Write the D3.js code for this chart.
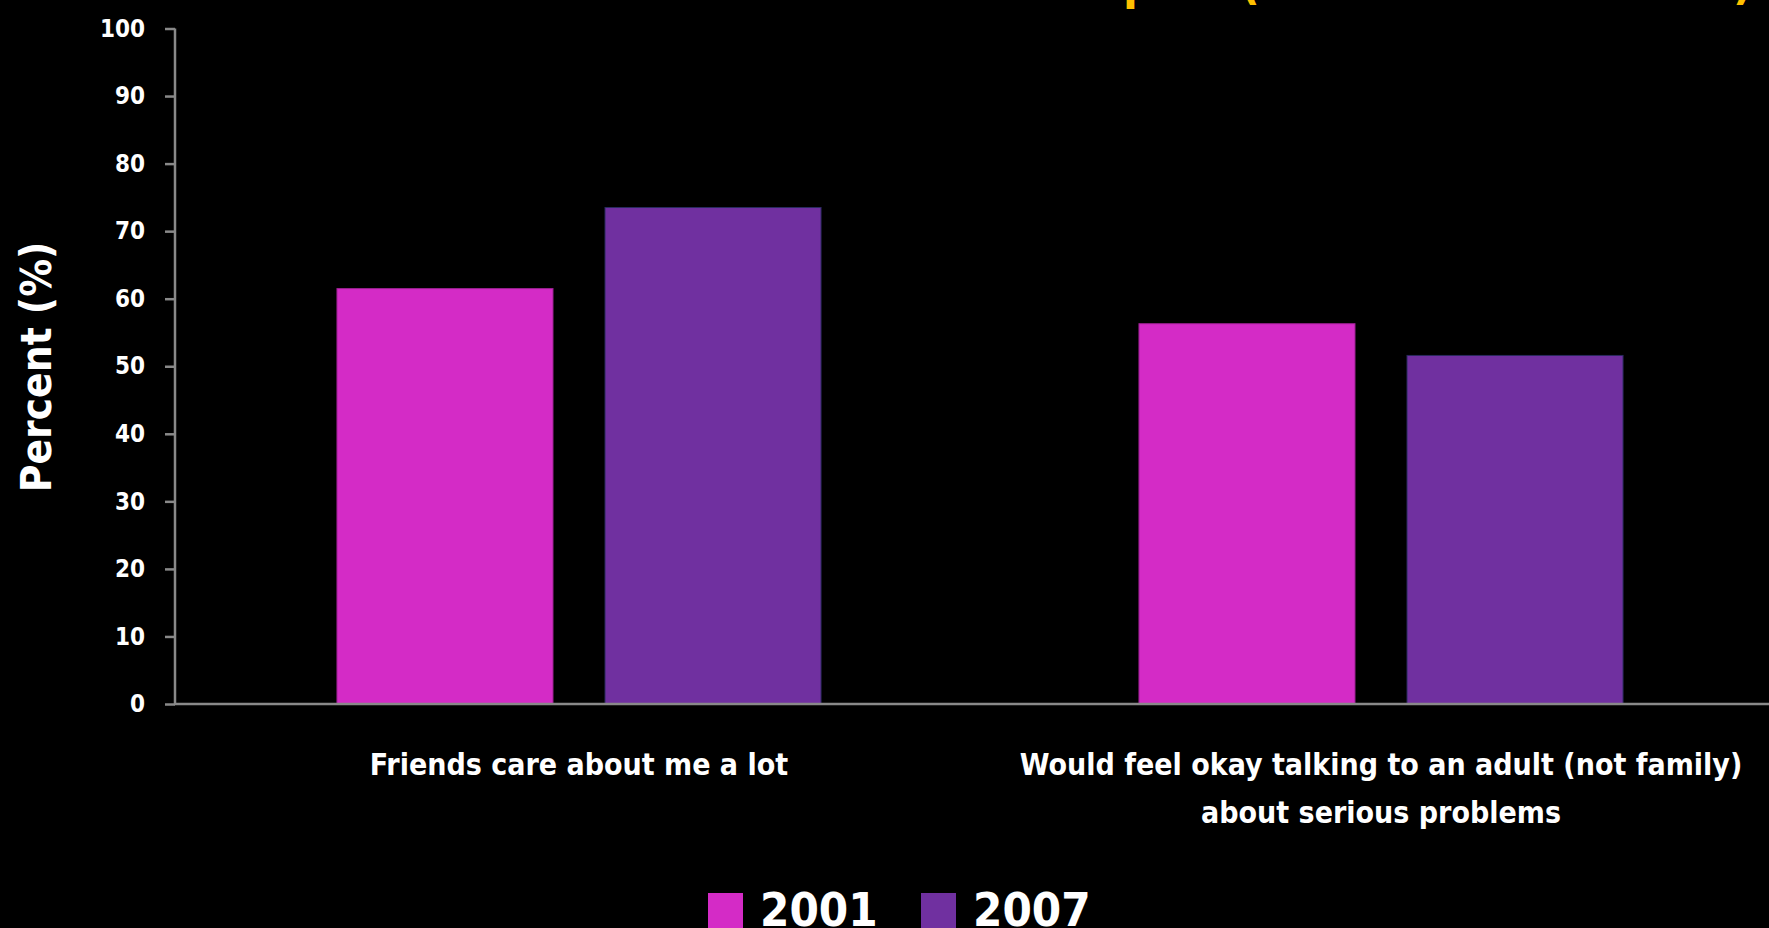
<!DOCTYPE html>
<html><head><meta charset="utf-8">
<script src="https://cdn.jsdelivr.net/npm/d3@7"></script>
<style>html,body{margin:0;padding:0;background:#000;overflow:hidden}svg{display:block}</style>
</head><body>
<svg id="c" width="1769" height="928"></svg>
<script>
const categories = [["Friends care about me a lot"], ["Would feel okay talking to an adult (not family)", "about serious problems"]];
const categoryKeys = ["Friends care about me a lot", "Would feel okay talking to an adult (not family) about serious problems"];
const seriesNames = ["2001", "2007"];
const values2001 = [61.5, 56.3];
const values2007 = [73.5, 51.6];
const yTicks = [0, 10, 20, 30, 40, 50, 60, 70, 80, 90, 100];
const colors = ["#D42BC6", "#7030A0"];
const strokes = ["#9a2090", "#2a2a5e"];
const titleFragments = [{t: "p", x: 1123}, {t: "(", x: 1240}, {t: ")", x: 1733}];

const FONT = "'DejaVu Sans Condensed','DejaVu Sans',sans-serif";
const svg = d3.select("#c");
svg.append("rect").attr("width", 1769).attr("height", 928).attr("fill", "#000");

const y = d3.scaleLinear().domain([0, 100]).range([704, 28.5]);
const x0 = d3.scaleBand().domain(categoryKeys).range([178, 1782]).padding(0);
const x1 = d3.scaleBand().domain(seriesNames).range([0, x0.bandwidth()]).paddingInner(0.194).paddingOuter(0.593);

// title fragments (clipped at top, as in the reference)
svg.selectAll("text.title").data(titleFragments).join("text")
  .attr("class", "title").attr("x", d => d.x).attr("y", -1)
  .attr("font-family", FONT).attr("font-weight", "bold").attr("font-size", 48)
  .attr("fill", "#FFC000").text(d => d.t);

// bars
const data = categoryKeys.map((c, i) => ({cat: c, vals: [values2001[i], values2007[i]]}));
const g = svg.append("g");
data.forEach(d => {
  d.vals.forEach((v, j) => {
    g.append("rect")
      .attr("x", x0(d.cat) + x1(seriesNames[j]))
      .attr("y", y(v))
      .attr("width", x1.bandwidth())
      .attr("height", y(0) - y(v))
      .attr("fill", colors[j]).attr("stroke", strokes[j]).attr("stroke-width", 1);
  });
});

// y axis
const yAxis = svg.append("g").attr("transform", "translate(175,0)")
  .call(d3.axisLeft(y).tickValues(yTicks).tickSize(10).tickPadding(20));
yAxis.select(".domain").attr("stroke", "#898989").attr("stroke-width", 2.5).attr("d", `M0,${y(100)}V${y(0)}`);
yAxis.selectAll(".tick line").attr("stroke", "#898989").attr("stroke-width", 2.5);
yAxis.selectAll(".tick text").attr("fill", "#fff").attr("font-family", FONT)
  .attr("font-weight", "bold").attr("font-size", 24);

// x axis line
svg.append("line").attr("x1", 174).attr("x2", 1769).attr("y1", y(0)).attr("y2", y(0))
  .attr("stroke", "#898989").attr("stroke-width", 2.5);

// category labels
categoryKeys.forEach((c, i) => {
  const t = svg.append("text").attr("text-anchor", "middle")
    .attr("font-family", FONT).attr("font-weight", "bold").attr("font-size", 30).attr("fill", "#fff");
  categories[i].forEach((line, k) => {
    t.append("tspan").attr("x", x0(c) + x0.bandwidth() / 2).attr("y", 775 + k * 48).text(line);
  });
});

// y title
svg.append("text").attr("transform", "translate(51,367) rotate(-90)")
  .attr("text-anchor", "middle").attr("font-family", FONT).attr("font-weight", "bold")
  .attr("font-size", 42).attr("fill", "#fff").text("Percent (%)");

// legend
const legX = [708, 921];
seriesNames.forEach((s, i) => {
  svg.append("rect").attr("x", legX[i]).attr("y", 893).attr("width", 35).attr("height", 40).attr("fill", colors[i]);
  svg.append("text").attr("x", legX[i] + 52).attr("y", 926).attr("font-family", FONT)
    .attr("font-weight", "bold").attr("font-size", 47).attr("fill", "#fff").text(s);
});
</script>
</body></html>
